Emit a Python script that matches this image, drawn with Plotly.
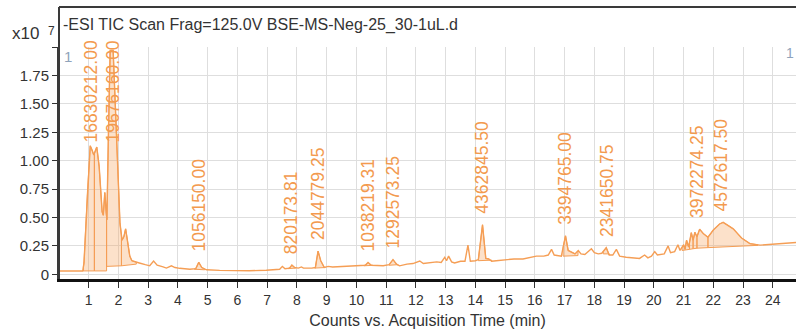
import numpy as np
import plotly.graph_objects as go

# ---------------- data (time in min, counts in units of 1e7) ----------------
time_min = [0.0, 0.80, 0.84, 0.95, 1.05, 1.10, 1.17, 1.27, 1.35, 1.45, 1.49, 1.54, 1.58, 1.61,
            1.66, 1.72, 1.82, 1.90, 1.97, 2.05, 2.12, 2.18, 2.24, 2.30, 2.38, 2.45, 2.55, 2.70,
            2.90, 3.05, 3.18, 3.30, 3.50, 3.61, 3.78, 3.90, 4.06, 4.40, 4.60, 4.70, 4.80, 4.96,
            5.40, 5.85, 6.40, 6.97, 7.30, 7.42, 7.51, 7.60, 7.75, 7.83, 7.92, 8.05, 8.15, 8.22,
            8.50, 8.62, 8.71, 8.80, 8.92, 9.05, 9.20, 9.50, 9.77, 10.10, 10.30, 10.39, 10.50,
            10.90, 11.10, 11.23, 11.35, 11.45, 11.70, 11.90, 12.13, 12.25, 12.45, 12.70, 12.85,
            12.97, 13.03, 13.10, 13.20, 13.30, 13.50, 13.65, 13.75, 13.83, 14.00, 14.10, 14.24,
            14.35, 14.45, 14.55, 14.70, 15.05, 15.30, 15.60, 15.80, 16.05, 16.30, 16.45, 16.56,
            16.65, 16.89, 17.03, 17.12, 17.25, 17.35, 17.46, 17.55, 17.68, 17.90, 18.00, 18.13,
            18.25, 18.40, 18.50, 18.62, 18.74, 18.85, 19.07, 19.52, 19.69, 19.80, 19.92, 20.03,
            20.12, 20.35, 20.48, 20.56, 20.70, 20.81, 20.88, 21.00, 21.05, 21.10, 21.17, 21.26,
            21.32, 21.38, 21.45, 21.54, 21.66, 21.82, 22.00, 22.21, 22.33, 22.50, 22.67, 22.95,
            23.23, 23.57, 24.24, 24.80]
counts_e7 = [0.03, 0.03, 0.10, 0.70, 1.13, 1.10, 1.05, 1.12, 0.95, 0.55, 0.52, 0.72, 0.55, 0.48,
             1.20, 1.97, 1.97, 1.40, 0.90, 0.45, 0.30, 0.33, 0.40, 0.30, 0.16, 0.12, 0.11, 0.10,
             0.085, 0.075, 0.117, 0.08, 0.065, 0.055, 0.075, 0.06, 0.053, 0.045, 0.05, 0.106, 0.06, 0.04,
             0.035, 0.032, 0.032, 0.036, 0.04, 0.045, 0.07, 0.05, 0.055, 0.082, 0.06, 0.055, 0.065, 0.055,
             0.055, 0.06, 0.204, 0.12, 0.06, 0.07, 0.065, 0.068, 0.073, 0.08, 0.08, 0.104, 0.08,
             0.075, 0.085, 0.129, 0.09, 0.075, 0.09, 0.095, 0.117, 0.095, 0.10, 0.11, 0.105,
             0.15, 0.12, 0.16, 0.11, 0.10, 0.115, 0.115, 0.258, 0.115, 0.12, 0.13, 0.436,
             0.14, 0.135, 0.115, 0.12, 0.13, 0.135, 0.135, 0.145, 0.16, 0.16, 0.17, 0.22,
             0.17, 0.16, 0.339, 0.21, 0.19, 0.18, 0.21, 0.18, 0.175, 0.225, 0.19, 0.18,
             0.185, 0.234, 0.17, 0.17, 0.22, 0.16, 0.15, 0.14, 0.17, 0.145, 0.16, 0.20,
             0.17, 0.18, 0.25, 0.19, 0.20, 0.26, 0.21, 0.26, 0.22, 0.30, 0.24, 0.366,
             0.30, 0.37, 0.33, 0.397, 0.36, 0.326, 0.39, 0.443, 0.457, 0.43, 0.40, 0.32,
             0.27, 0.257, 0.27, 0.28]

# integrated peak windows: start, end, baseline at start, baseline at end
win_start = [0.82, 1.19, 1.60, 2.10, 4.55, 7.70, 8.60, 10.25, 11.10, 14.10, 16.95, 18.30,
             20.95, 21.20, 21.32, 21.45, 21.82]
win_end   = [1.19, 1.60, 2.10, 2.60, 4.90, 7.95, 8.95, 10.55, 11.40, 14.55, 17.45, 18.50,
             21.20, 21.32, 21.45, 21.82, 23.50]
base_start = [0.03, 0.03, 0.07, 0.075, 0.045, 0.05, 0.055, 0.075, 0.08, 0.12, 0.16, 0.18,
              0.21, 0.22, 0.225, 0.23, 0.235]
base_end   = [0.03, 0.03, 0.075, 0.09, 0.04, 0.055, 0.06, 0.08, 0.085, 0.125, 0.165, 0.18,
              0.22, 0.225, 0.23, 0.235, 0.255]

# labelled peaks (label value = peak height in counts)
peak_time = [1.07, 1.81, 4.70, 7.83, 8.71, 10.39, 11.23, 14.24, 17.03, 18.40, 21.45, 22.25]
peak_label = ["16830212.00", "19676160.00", "1056150.00", "820173.81", "2044779.25",
              "1038219.31", "1292573.25", "4362845.50", "3394765.00", "2341650.75",
              "3972274.25", "4572617.50"]

y_tick_vals = [0, 0.25, 0.5, 0.75, 1.0, 1.25, 1.5, 1.75, 2.0]
y_tick_text = ["0", "0.25", "0.50", "0.75", "1.00", "1.25", "1.50", "1.75", ""]
x_tick_vals = list(range(1, 25))

title_text = "-ESI TIC Scan Frag=125.0V BSE-MS-Neg-25_30-1uL.d"
x_title = "Counts vs. Acquisition Time (min)"

# ---------------- figure ----------------
ORANGE = "#F59E55"
LABEL_ORANGE = "#F39A4E"
FILL = "rgba(246,165,95,0.33)"
FONT = "Liberation Sans, Arial, sans-serif"

t_arr = np.array(time_min)
c_arr = np.array(counts_e7)

fig = go.Figure()

for t0, t1, b0, b1 in zip(win_start, win_end, base_start, base_end):
    inside = (t_arr > t0) & (t_arr < t1)
    xs = [t0] + list(t_arr[inside]) + [t1]
    ys = [float(np.interp(t0, t_arr, c_arr))] + list(c_arr[inside]) + [float(np.interp(t1, t_arr, c_arr))]
    px = xs + [t1, t0, t0]
    py = ys + [b1, b0, ys[0]]
    fig.add_trace(go.Scatter(x=px, y=py, mode="lines", fill="toself", fillcolor=FILL,
                             line=dict(color=ORANGE, width=1), hoverinfo="skip",
                             showlegend=False))

fig.add_trace(go.Scatter(x=time_min, y=counts_e7, mode="lines",
                         line=dict(color=ORANGE, width=1.4), showlegend=False))

for pt, lab in zip(peak_time, peak_label):
    h = float(lab) / 1e7
    fig.add_annotation(x=pt, y=min(h + 0.08, 1.14), text=lab, textangle=-90,
                       showarrow=False, xanchor="center", yanchor="bottom",
                       font=dict(family=FONT, size=17.5, color=LABEL_ORANGE))

L, T, B = 59, 47, 54
W, H = 796, 333
plot_w = W - L
plot_h = H - T - B

def px_x(p):
    return (p - L) / plot_w

def px_y(p):
    return (H - B - p) / plot_h

# frame: top line and left line up to top
fig.add_shape(type="line", xref="paper", yref="paper", x0=0, x1=1.02, y0=px_y(7), y1=px_y(7),
              line=dict(color="#3a3a3a", width=2))
fig.add_shape(type="line", xref="paper", yref="paper", x0=0, x1=0, y0=0, y1=px_y(7),
              line=dict(color="#3a3a3a", width=2))

fig.add_annotation(xref="paper", yref="paper", x=px_x(61), y=px_y(25), text=title_text,
                   showarrow=False, xanchor="left", yanchor="middle",
                   font=dict(family=FONT, size=16, color="#333333"))
fig.add_annotation(xref="paper", yref="paper", x=px_x(10), y=px_y(33), text="x10",
                   showarrow=False, xanchor="left", yanchor="middle",
                   font=dict(family=FONT, size=17, color="#333333"))
fig.add_annotation(xref="paper", yref="paper", x=px_x(46), y=px_y(31), text="7",
                   showarrow=False, xanchor="left", yanchor="middle",
                   font=dict(family=FONT, size=12, color="#333333"))
fig.add_annotation(xref="paper", yref="paper", x=px_x(62), y=px_y(56), text="1",
                   showarrow=False, xanchor="left", yanchor="middle",
                   font=dict(family=FONT, size=15, color="#8fa3bb"))
fig.add_annotation(xref="paper", yref="paper", x=1.0, y=px_y(53), text="1",
                   showarrow=False, xanchor="right", yanchor="middle",
                   font=dict(family=FONT, size=14, color="#8fa3bb"))

fig.update_layout(
    width=W, height=H,
    margin=dict(l=L, r=0, t=T, b=B, pad=0, autoexpand=False),
    paper_bgcolor="white", plot_bgcolor="white",
    font=dict(family=FONT, color="#333333"),
    showlegend=False,
)
fig.update_xaxes(range=[0, 24.78], tickvals=x_tick_vals, ticks="outside", ticklen=6,
                 tickcolor="#333333", showgrid=True, gridcolor="#dedede", gridwidth=1,
                 showline=True, linecolor="#111111", linewidth=2.5, zeroline=False,
                 automargin=False,
                 tickfont=dict(size=14, color="#333333"),
                 title=dict(text=x_title, font=dict(size=16, color="#333333"), standoff=9))
fig.update_yaxes(range=[-0.041, 2.0], tickvals=y_tick_vals, ticktext=y_tick_text,
                 ticks="outside", ticklen=5, tickcolor="#333333", showgrid=True,
                 automargin=False,
                 gridcolor="#dedede", gridwidth=1, showline=True, linecolor="#3a3a3a",
                 linewidth=2, zeroline=False, tickfont=dict(size=15, color="#333333"))

fig.write_html("out.html", config={"displayModeBar": False},
               post_script="document.body.style.margin='0';document.body.style.overflow='hidden';")
